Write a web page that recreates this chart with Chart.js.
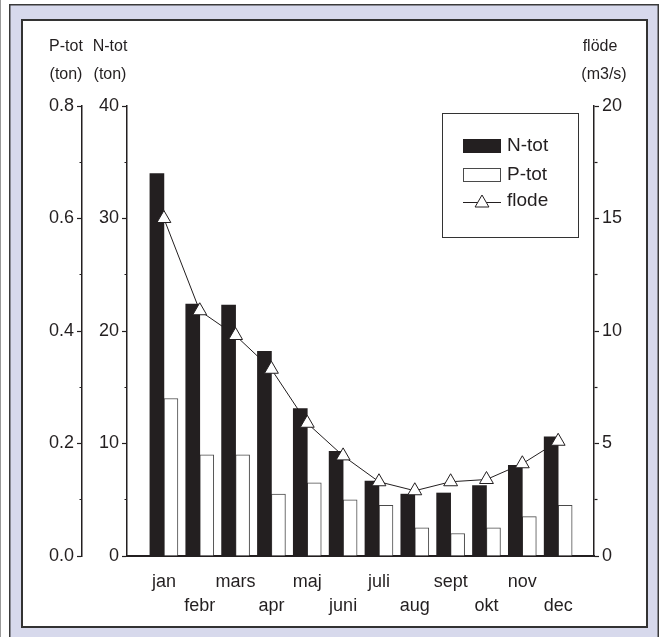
<!DOCTYPE html>
<html>
<head>
<meta charset="utf-8">
<script src="https://cdn.jsdelivr.net/npm/chart.js@4.4.1/dist/chart.umd.min.js"></script>
<style>
  html, body { margin: 0; padding: 0; background: #fff; }
  canvas { display: block; }
</style>
</head>
<body>
<canvas id="chart" width="666" height="637"></canvas>
<script>
// Monthly loads and flow
const months = ['jan', 'febr', 'mars', 'apr', 'maj', 'juni', 'juli', 'aug', 'sept', 'okt', 'nov', 'dec'];
const nTot  = [34.0, 22.4, 22.3, 18.2, 13.1, 9.3, 6.65, 5.5, 5.6, 6.25, 8.05, 10.6];   // ton
const pTot  = [0.28, 0.18, 0.18, 0.11, 0.13, 0.10, 0.09, 0.05, 0.04, 0.05, 0.07, 0.09]; // ton
const flode = [15.0, 10.9, 9.8, 8.3, 5.9, 4.45, 3.3, 2.9, 3.3, 3.4, 4.1, 5.1];          // m3/s

const INK = '#231f20';
const FONT = "'Liberation Sans', Arial, Helvetica, sans-serif";

const points = arr => arr.map((v, i) => ({ x: i, y: v }));

// minor ticks: short mark next to the axis line
const minorDashLeft = [0, 2.5, 3, 30];
const minorDashRight = [3, 30];

// Lavender frame behind the chart
const framePlugin = {
  id: 'frame',
  beforeDraw(chart) {
    const c = chart.ctx;
    c.save();
    c.fillStyle = '#fff';
    c.fillRect(0, 0, chart.width, chart.height);
    c.fillStyle = '#9a9a9a';
    c.fillRect(0, 0, 1, chart.height);
    c.fillStyle = '#d7d9ec';
    c.fillRect(10, 5, 648, 640);
    c.strokeStyle = '#3a3a3a';
    c.lineWidth = 1.5;
    c.strokeRect(9.75, 4.75, 648.5, 640);
    c.fillStyle = '#fff';
    c.fillRect(22, 20, 625, 607);
    c.lineWidth = 2;
    c.strokeStyle = '#333';
    c.strokeRect(22, 20, 625, 607);
    c.restore();
  }
};

// Axis titles above the value axes
const titlesPlugin = {
  id: 'axisTitles',
  afterDraw(chart) {
    const c = chart.ctx;
    c.save();
    c.fillStyle = INK;
    c.font = '16px ' + FONT;
    c.textAlign = 'center';
    c.textBaseline = 'middle';
    c.fillText('P-tot', 66, 47);
    c.fillText('(ton)', 66, 75);
    c.fillText('N-tot', 110, 47);
    c.fillText('(ton)', 110, 75);
    c.fillText('flöde', 600, 47);
    c.fillText('(m3/s)', 604, 75);
    c.restore();
  }
};

// Boxed legend inside the plot
const legendBoxPlugin = {
  id: 'legendBox',
  afterDraw(chart) {
    const c = chart.ctx;
    const ds = chart.data.datasets;
    const byLabel = l => ds.find(d => d.label === l);
    c.save();
    c.fillStyle = '#fff';
    c.fillRect(442, 113, 136, 124);
    c.strokeStyle = '#333';
    c.lineWidth = 1;
    c.strokeRect(442.5, 113.5, 136, 124);
    c.font = '19px ' + FONT;
    c.textBaseline = 'middle';
    c.textAlign = 'left';

    const n = byLabel('N-tot');
    c.fillStyle = n.backgroundColor;
    c.fillRect(463, 139, 38, 14);
    c.fillStyle = INK;
    c.fillText(n.label, 507, 146);

    const p = byLabel('P-tot');
    c.fillStyle = p.backgroundColor;
    c.fillRect(463, 168, 38, 14);
    c.strokeStyle = p.borderColor;
    c.strokeRect(463.5, 168.5, 37, 13);
    c.fillStyle = INK;
    c.fillText(p.label, 507, 175);

    const f = byLabel('flode');
    c.strokeStyle = f.borderColor;
    c.beginPath();
    c.moveTo(463, 202.5);
    c.lineTo(501, 202.5);
    c.stroke();
    c.fillStyle = '#fff';
    c.strokeStyle = INK;
    c.beginPath();
    const r = 8;
    c.moveTo(482, 203 - r);
    c.lineTo(482 + r * Math.sin(Math.PI * 2 / 3), 203 + r / 2);
    c.lineTo(482 - r * Math.sin(Math.PI * 2 / 3), 203 + r / 2);
    c.closePath();
    c.fill();
    c.stroke();
    c.fillStyle = INK;
    c.fillText(f.label, 507, 201);
    c.restore();
  }
};

const tickFont = { family: FONT, size: 18 };

new Chart(document.getElementById('chart'), {
  type: 'bar',
  data: {
    datasets: [
      {
        type: 'line',
        label: 'flode',
        data: points(flode),
        yAxisID: 'yF',
        borderColor: INK,
        borderWidth: 1,
        pointStyle: 'triangle',
        pointRadius: 8,
        pointBackgroundColor: '#fff',
        pointBorderColor: INK,
        pointBorderWidth: 1,
        tension: 0,
        order: 0
      },
      {
        label: 'N-tot',
        data: points(nTot),
        yAxisID: 'yN',
        backgroundColor: INK,
        borderWidth: 0,
        barThickness: 14,
        order: 1
      },
      {
        label: 'P-tot',
        data: points(pTot),
        yAxisID: 'yP',
        backgroundColor: '#fff',
        borderColor: '#4a4a4a',
        borderWidth: 1,
        barThickness: 14,
        order: 1
      }
    ]
  },
  options: {
    responsive: false,
    animation: false,
    devicePixelRatio: 1,
    layout: { padding: { left: 32, right: 42, top: 106, bottom: 20 } },
    plugins: {
      legend: { display: false },
      tooltip: { enabled: false }
    },
    scales: {
      x: {
        type: 'linear',
        min: -1.03,
        max: 12,
        offset: false,
        grid: { display: true, drawOnChartArea: false, drawTicks: false, offset: false },
        border: { display: true, color: INK, width: 2 },
        afterBuildTicks: s => { s.ticks = months.map((m, i) => ({ value: i })); },
        afterFit: s => { s.height = 61; },
        ticks: {
          autoSkip: false,
          maxRotation: 0,
          minRotation: 0,
          padding: 14,
          color: INK,
          font: { family: FONT, size: 18, lineHeight: 1.35 },
          callback: (v, i) => (i % 2 === 0 ? [months[i], ''] : ['', months[i]])
        }
      },
      yP: {
        position: 'left',
        weight: 2,
        min: 0,
        max: 0.8,
        grid: {
          drawOnChartArea: false,
          tickLength: 5,
          tickColor: INK,
          tickWidth: 1.2,
          tickBorderDash: ctx => (Math.round(ctx.tick.value * 10) % 2 === 0 ? [] : minorDashLeft)
        },
        border: { display: true, color: INK, width: 1.5 },
        afterFit: s => { s.width = 50; },
        ticks: {
          stepSize: 0.1,
          autoSkip: false,
          padding: 3,
          color: INK,
          font: tickFont,
          callback: v => (Math.round(v * 10) % 2 === 0 ? v.toFixed(1) : '')
        }
      },
      yN: {
        position: 'left',
        weight: 1,
        min: 0,
        max: 40,
        grid: {
          drawOnChartArea: false,
          tickLength: 5,
          tickColor: INK,
          tickWidth: 1.2,
          tickBorderDash: ctx => (ctx.tick.value % 10 === 0 ? [] : minorDashLeft)
        },
        border: { display: true, color: INK, width: 1.5 },
        afterFit: s => { s.width = 45; },
        ticks: {
          stepSize: 5,
          autoSkip: false,
          padding: 3,
          color: INK,
          font: tickFont,
          callback: v => (v % 10 === 0 ? String(v) : '')
        }
      },
      yF: {
        position: 'right',
        min: 0,
        max: 20,
        grid: {
          drawOnChartArea: false,
          tickLength: 5,
          tickColor: INK,
          tickWidth: 1.2,
          tickBorderDash: ctx => (ctx.tick.value % 5 === 0 ? [] : minorDashRight)
        },
        border: { display: true, color: INK, width: 1.5 },
        afterFit: s => { s.width = 30; },
        ticks: {
          stepSize: 2.5,
          autoSkip: false,
          padding: 3,
          color: INK,
          font: tickFont,
          callback: v => (v % 5 === 0 ? String(v) : '')
        }
      }
    }
  },
  plugins: [framePlugin, titlesPlugin, legendBoxPlugin]
});
</script>
</body>
</html>
